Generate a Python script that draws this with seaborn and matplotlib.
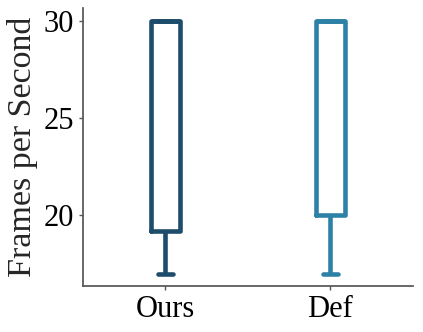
import matplotlib
matplotlib.use("Agg")
import matplotlib.pyplot as plt
import seaborn as sns
import pandas as pd

methods = ["Ours", "Def"]
ours_fps = [17, 19.2, 19.2, 25, 30, 30, 30, 30, 30]
def_fps = [17, 20, 20, 25, 30, 30, 30, 30, 30]
colors = ["#1d4d6b", "#2e81a6"]

df = pd.DataFrame({
    "Method": [methods[0]] * len(ours_fps) + [methods[1]] * len(def_fps),
    "FPS": ours_fps + def_fps,
})

sns.set_theme(style="ticks")
plt.rcParams["font.family"] = ["Liberation Serif", "DejaVu Serif"]

fig, ax = plt.subplots(figsize=(4.23, 3.32), dpi=100)
sns.boxplot(data=df, x="Method", y="FPS", hue="Method", palette=colors,
            fill=False, width=0.18, linewidth=3.3, showfliers=False,
            legend=False, ax=ax, order=methods, hue_order=methods)

ax.set_xlabel("")
ax.set_ylabel("Frames per Second", fontsize=24.5, labelpad=4)
ax.set_yticks([20, 25, 30])
ax.tick_params(axis="both", labelsize=22, length=3, width=1, colors="#555555",
               labelcolor="black")
for s in ["left", "bottom"]:
    ax.spines[s].set_color("#555555")
sns.despine(ax=ax)
fig.subplots_adjust(left=0.196, right=0.976, top=0.976, bottom=0.138)
fig.savefig("out.png", dpi=100)
